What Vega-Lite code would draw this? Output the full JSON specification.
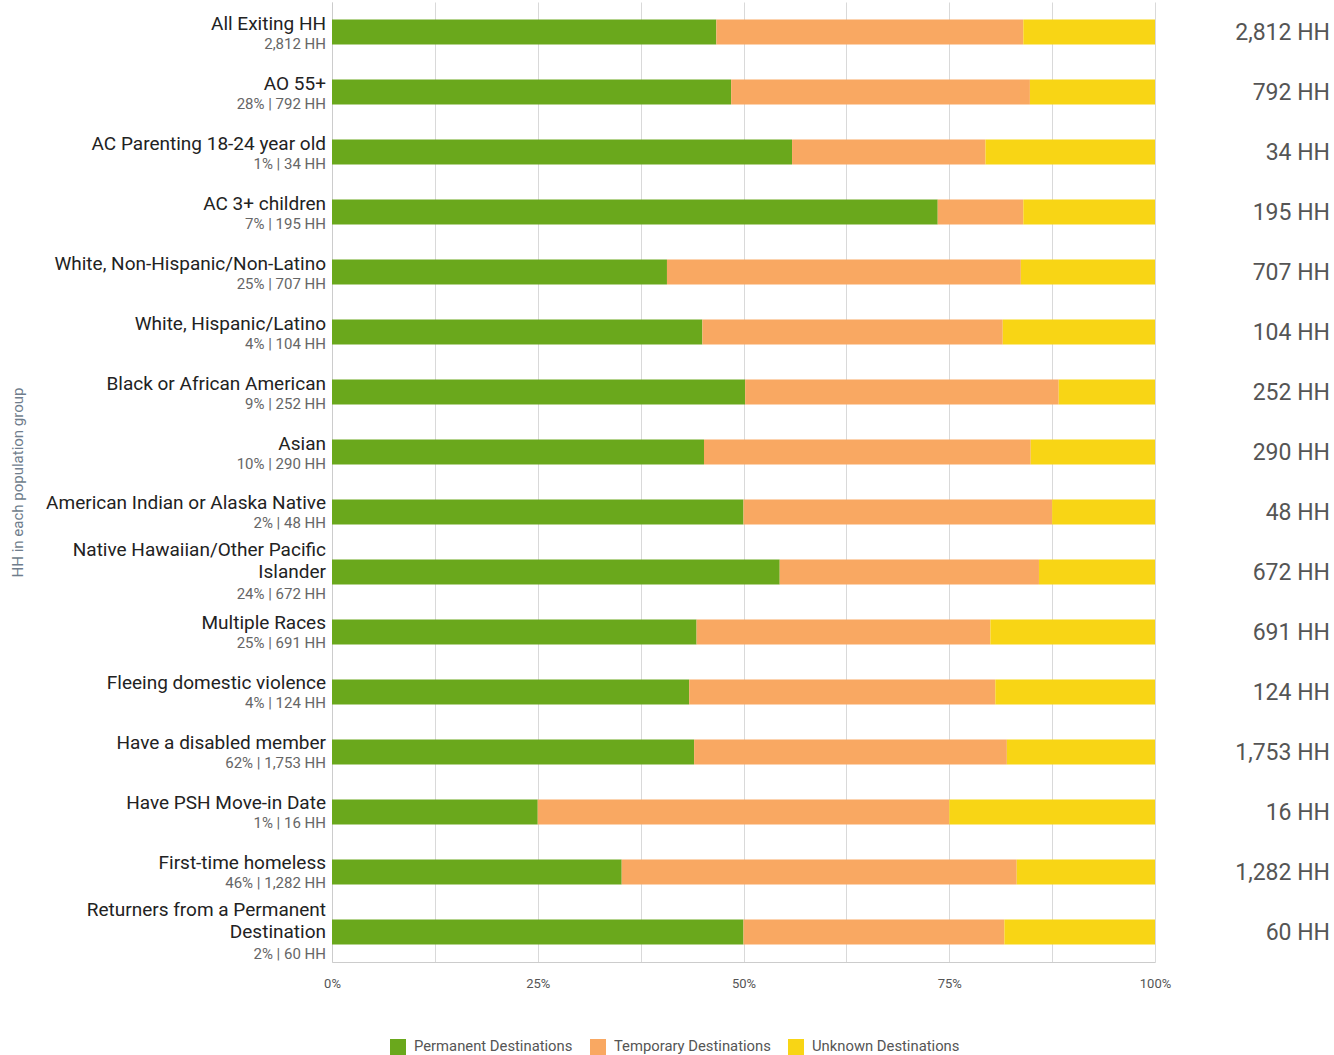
{
  "$schema": "https://vega.github.io/schema/vega-lite/v6.json",
  "width": 823,
  "height": 960,
  "autosize": {"type": "none"},
  "padding": {"left": 332, "top": 2, "right": 179, "bottom": 93},
  "config": {"font": "Roboto", "view": {"stroke": null}},
  "data": {
    "values": [
      {"label": "All Exiting HH", "sub": "2,812 HH", "hh": "2,812 HH", "Permanent Destinations": 46.7, "Temporary Destinations": 37.3, "Unknown Destinations": 16.0},
      {"label": "AO 55+", "sub": "28% | 792 HH", "hh": "792 HH", "Permanent Destinations": 48.5, "Temporary Destinations": 36.3, "Unknown Destinations": 15.2},
      {"label": "AC Parenting 18-24 year old", "sub": "1% | 34 HH", "hh": "34 HH", "Permanent Destinations": 55.9, "Temporary Destinations": 23.5, "Unknown Destinations": 20.6},
      {"label": "AC 3+ children", "sub": "7% | 195 HH", "hh": "195 HH", "Permanent Destinations": 73.6, "Temporary Destinations": 10.4, "Unknown Destinations": 16.0},
      {"label": "White, Non-Hispanic/Non-Latino", "sub": "25% | 707 HH", "hh": "707 HH", "Permanent Destinations": 40.7, "Temporary Destinations": 43.0, "Unknown Destinations": 16.3},
      {"label": "White, Hispanic/Latino", "sub": "4% | 104 HH", "hh": "104 HH", "Permanent Destinations": 45.0, "Temporary Destinations": 36.5, "Unknown Destinations": 18.5},
      {"label": "Black or African American", "sub": "9% | 252 HH", "hh": "252 HH", "Permanent Destinations": 50.2, "Temporary Destinations": 38.1, "Unknown Destinations": 11.7},
      {"label": "Asian", "sub": "10% | 290 HH", "hh": "290 HH", "Permanent Destinations": 45.2, "Temporary Destinations": 39.7, "Unknown Destinations": 15.1},
      {"label": "American Indian or Alaska Native", "sub": "2% | 48 HH", "hh": "48 HH", "Permanent Destinations": 50.0, "Temporary Destinations": 37.5, "Unknown Destinations": 12.5},
      {"label": "Native Hawaiian/Other Pacific\u00a0\nIslander", "sub": "24% | 672 HH", "hh": "672 HH", "Permanent Destinations": 54.4, "Temporary Destinations": 31.5, "Unknown Destinations": 14.1},
      {"label": "Multiple Races", "sub": "25% | 691 HH", "hh": "691 HH", "Permanent Destinations": 44.3, "Temporary Destinations": 35.7, "Unknown Destinations": 20.0},
      {"label": "Fleeing domestic violence", "sub": "4% | 124 HH", "hh": "124 HH", "Permanent Destinations": 43.4, "Temporary Destinations": 37.2, "Unknown Destinations": 19.4},
      {"label": "Have a disabled member", "sub": "62% | 1,753 HH", "hh": "1,753 HH", "Permanent Destinations": 44.0, "Temporary Destinations": 38.0, "Unknown Destinations": 18.0},
      {"label": "Have PSH Move-in Date", "sub": "1% | 16 HH", "hh": "16 HH", "Permanent Destinations": 25.0, "Temporary Destinations": 50.0, "Unknown Destinations": 25.0},
      {"label": "First-time homeless", "sub": "46% | 1,282 HH", "hh": "1,282 HH", "Permanent Destinations": 35.2, "Temporary Destinations": 48.0, "Unknown Destinations": 16.8},
      {"label": "Returners from a Permanent\u00a0\nDestination", "sub": "2% | 60 HH", "hh": "60 HH", "Permanent Destinations": 50.0, "Temporary Destinations": 31.7, "Unknown Destinations": 18.3}
    ]
  },
  "encoding": {
    "y": {
      "field": "label",
      "type": "nominal",
      "sort": null,
      "scale": {"paddingInner": 0.5833, "paddingOuter": 0.29167},
      "axis": {
        "labels": false,
        "ticks": false,
        "grid": false,
        "domain": true,
        "domainColor": "#cccccc",
        "title": "HH in each population group",
        "titleColor": "#6f7d8c",
        "titleFontSize": 15,
        "titleFontWeight": "normal",
        "titleAngle": -90,
        "titleX": -315,
        "titleY": 480,
        "titleAlign": "center",
        "titleBaseline": "middle"
      }
    }
  },
  "layer": [
    {
      "transform": [{"fold": ["Permanent Destinations", "Temporary Destinations", "Unknown Destinations"], "as": ["dest", "pct"]}],
      "mark": {"type": "bar"},
      "encoding": {
        "x": {
          "field": "pct",
          "type": "quantitative",
          "stack": "zero",
          "scale": {"domain": [0, 100], "nice": false},
          "axis": {
            "title": null,
            "values": [0, 12.5, 25, 37.5, 50, 62.5, 75, 87.5, 100],
            "labelExpr": "datum.value % 25 == 0 ? datum.value + '%' : ''",
            "grid": true,
            "gridColor": "#d9d9d9",
            "domainColor": "#cccccc",
            "ticks": false,
            "labelColor": "#555555",
            "labelFontSize": 13,
            "labelPadding": 15,
            "labelFlush": false
          }
        },
        "color": {
          "field": "dest",
          "type": "nominal",
          "scale": {
            "domain": ["Permanent Destinations", "Temporary Destinations", "Unknown Destinations"],
            "range": ["#6aa81c", "#f9a862", "#f8d515"]
          },
          "legend": {
            "title": null,
            "orient": "none",
            "direction": "horizontal",
            "legendX": 58,
            "legendY": 1037,
            "symbolType": "square",
            "symbolSize": 256,
            "symbolStrokeWidth": 0,
            "symbolOpacity": 1,
            "labelFontSize": 14.8,
            "labelColor": "#555555",
            "labelOffset": 8,
            "columnPadding": 17
          }
        },
        "order": {"field": "dest", "type": "nominal", "sort": "ascending"}
      }
    },
    {
      "transform": [{"filter": "indexof(datum.label, '\\n') < 0"}],
      "mark": {"type": "text", "align": "right", "baseline": "middle", "dx": -6, "dy": -8.5, "fontSize": 19, "color": "#222222"},
      "encoding": {
        "x": {"datum": 0, "type": "quantitative"},
        "text": {"field": "label"}
      }
    },
    {
      "transform": [{"filter": "indexof(datum.label, '\\n') >= 0"}],
      "mark": {"type": "text", "align": "right", "baseline": "middle", "dx": -6, "dy": -22, "fontSize": 19, "color": "#222222", "lineBreak": "\n", "lineHeight": 22},
      "encoding": {
        "x": {"datum": 0, "type": "quantitative"},
        "text": {"field": "label"}
      }
    },
    {
      "transform": [{"filter": "indexof(datum.label, '\\n') < 0"}],
      "mark": {"type": "text", "align": "right", "baseline": "middle", "dx": -6, "dy": 11.5, "fontSize": 15, "color": "#666666"},
      "encoding": {
        "x": {"datum": 0, "type": "quantitative"},
        "text": {"field": "sub"}
      }
    },
    {
      "transform": [{"filter": "indexof(datum.label, '\\n') >= 0"}],
      "mark": {"type": "text", "align": "right", "baseline": "middle", "dx": -6, "dy": 22.5, "fontSize": 15, "color": "#666666"},
      "encoding": {
        "x": {"datum": 0, "type": "quantitative"},
        "text": {"field": "sub"}
      }
    },
    {
      "mark": {"type": "text", "align": "right", "baseline": "middle", "dx": 175, "dy": 1, "fontSize": 23, "color": "#555555"},
      "encoding": {
        "x": {"datum": 100, "type": "quantitative"},
        "text": {"field": "hh"}
      }
    }
  ]
}
